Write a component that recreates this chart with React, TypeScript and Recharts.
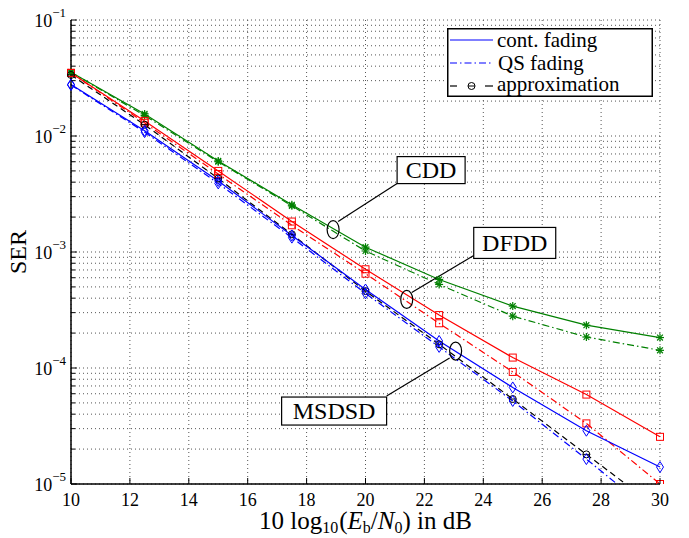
import React from "react";
import {
  CartesianGrid,
  Label,
  Legend,
  Line,
  LineChart,
  ReferenceDot,
  XAxis,
  YAxis
} from "recharts";

// Eb/N0 in dB
const snr = [10, 12.5, 15, 17.5, 20, 22.5, 25, 27.5, 30];

// CDD
const cddCont = [0.0355, 0.0155, 0.0061, 0.00255, 0.0011, 0.00058, 0.000342, 0.000234, 0.000183];
const cddQs = [0.0355, 0.015, 0.006, 0.0025, 0.00102, 0.000525, 0.00028, 0.000185, 0.000142];
// DFDD
const dfddCont = [0.035, 0.0135, 0.005, 0.00183, 0.00071, 0.000286, 0.000123, 0.000059, 0.0000255];
const dfddQs = [0.035, 0.013, 0.0047, 0.0017, 0.00065, 0.000243, 0.0000925, 0.0000333, 0.00001];
// MSDSD
const msdsdCont = [0.0278, 0.0111, 0.0041, 0.00139, 0.000475, 0.000171, 0.000068, 0.0000288, 0.000014];
const msdsdQs = [0.0275, 0.0108, 0.0039, 0.00133, 0.00044, 0.000152, 0.000052, 0.0000164, 0.000005];
const approx = [0.0336, 0.0125, 0.0043, 0.00142, 0.00046, 0.00016, 0.000054, 0.000018, 0.000006];

const xTicks = [10, 12, 14, 16, 18, 20, 22, 24, 26, 28, 30];
const decades = [1e-5, 1e-4, 1e-3, 1e-2, 1e-1];
const mantissas = [1, 2, 3, 4, 5, 6, 7, 8, 9];
const yTicks = decades
  .slice(0, 4)
  .flatMap((d) => mantissas.map((m) => m * d))
  .concat([1e-1]);

const annotations = [
  { label: "CDD", x: 18.9, y: 0.00156, line: [5, -8, 64, -46], box: [64, -73, 68, 27] },
  { label: "DFDD", x: 21.4, y: 0.00039, line: [5, -7, 67, -44], box: [67, -72, 82, 31] },
  { label: "MSDSD", x: 23.06, y: 0.00014, line: [-6, 7, -69, 45], box: [-174, 46, 105, 28] }
];

const data = snr.map((s, i) => ({
  snr: s,
  cddCont: cddCont[i],
  cddQs: cddQs[i],
  dfddCont: dfddCont[i],
  dfddQs: dfddQs[i],
  msdsdCont: msdsdCont[i],
  msdsdQs: msdsdQs[i],
  approx: approx[i]
}));

const serif = { fontFamily: "Liberation Serif, serif" };
const QS_DASH = "7 3 1.5 3";
const APPROX_DASH = "6 4";

function isDecade(v: number) {
  const l = Math.log10(v);
  return Math.abs(l - Math.round(l)) < 1e-6;
}

function LeftTick(props: any) {
  const { x, y, payload } = props;
  const major = isDecade(payload.value);
  const exp = Math.round(Math.log10(payload.value));
  return (
    <g>
      <line x1={x} x2={x + (major ? 6 : 4)} y1={y} y2={y} stroke="#000" />
      {major && (
        <text x={x - 5} y={y + 7} textAnchor="end" fontSize={18} style={serif} fill="#000">
          10
          <tspan dy={-10} fontSize={13}>
            {"\u2212" + Math.abs(exp)}
          </tspan>
        </text>
      )}
    </g>
  );
}

function RightTick(props: any) {
  const { x, y, payload } = props;
  const major = isDecade(payload.value);
  return <line x1={x} x2={x - (major ? 6 : 4)} y1={y} y2={y} stroke="#000" />;
}

function BottomTick(props: any) {
  const { x, y, payload } = props;
  return (
    <g>
      <line x1={x} x2={x} y1={y} y2={y - 6} stroke="#000" />
      <text x={x} y={y + 22} textAnchor="middle" fontSize={18} style={serif} fill="#000">
        {payload.value}
      </text>
    </g>
  );
}

function TopTick(props: any) {
  const { x, y } = props;
  return <line x1={x} x2={x} y1={y} y2={y + 6} stroke="#000" />;
}

function XTitle(props: any) {
  const vb = props.viewBox || { x: 71, y: 484, width: 589 };
  const cx = vb.x + vb.width / 2;
  return (
    <text x={cx} y={vb.y + 45} textAnchor="middle" fontSize={25} style={serif} fill="#000">
      10 log
      <tspan fontSize={16} dy={4}>10</tspan>
      <tspan dy={-4} dx={1}>(</tspan>
      <tspan fontStyle="italic">E</tspan>
      <tspan fontSize={16} dy={4}>b</tspan>
      <tspan dy={-4}>/</tspan>
      <tspan fontStyle="italic">N</tspan>
      <tspan fontSize={16} dy={4}>0</tspan>
      <tspan dy={-4}>)  in  dB</tspan>
    </text>
  );
}

function YTitle(props: any) {
  const vb = props.viewBox || { x: 0, y: 20, height: 464 };
  const cy = vb.y + vb.height / 2;
  return (
    <text
      x={18}
      y={cy}
      transform={`rotate(-90 18 ${cy})`}
      textAnchor="middle"
      dominantBaseline="central"
      fontSize={24}
      style={serif}
      fill="#000"
    >
      SER
    </text>
  );
}

function diamond(color: string) {
  return (p: any) => {
    const { cx, cy, index } = p;
    if (cx == null || cy == null) return <g key={index} />;
    return (
      <polygon
        key={index}
        points={`${cx},${cy - 5.5} ${cx + 3.5},${cy} ${cx},${cy + 5.5} ${cx - 3.5},${cy}`}
        fill="none"
        stroke={color}
        strokeWidth={1}
      />
    );
  };
}

function square(color: string) {
  return (p: any) => {
    const { cx, cy, index } = p;
    if (cx == null || cy == null) return <g key={index} />;
    return <rect key={index} x={cx - 3.5} y={cy - 3.5} width={7} height={7} fill="none" stroke={color} strokeWidth={1} />;
  };
}

function star(color: string) {
  return (p: any) => {
    const { cx, cy, index } = p;
    if (cx == null || cy == null) return <g key={index} />;
    const r = 4;
    const d = 2.9;
    return (
      <g key={index} stroke={color} strokeWidth={1.2}>
        <line x1={cx - r} x2={cx + r} y1={cy} y2={cy} />
        <line x1={cx} x2={cx} y1={cy - r} y2={cy + r} />
        <line x1={cx - d} x2={cx + d} y1={cy - d} y2={cy + d} />
        <line x1={cx - d} x2={cx + d} y1={cy + d} y2={cy - d} />
      </g>
    );
  };
}

function circle(color: string) {
  return (p: any) => {
    const { cx, cy, index } = p;
    if (cx == null || cy == null) return <g key={index} />;
    return (
      <g key={index}>
        <circle cx={cx} cy={cy} r={3.5} fill="none" stroke={color} strokeWidth={1} />
        <line x1={cx - 3.5} x2={cx + 3.5} y1={cy} y2={cy} stroke={color} strokeWidth={1} />
      </g>
    );
  };
}

function callout(a: (typeof annotations)[number]) {
  return (p: any) => {
    const { cx, cy } = p;
    const [lx1, ly1, lx2, ly2] = a.line;
    const [bx, by, bw, bh] = a.box;
    return (
      <g>
        <ellipse cx={cx} cy={cy} rx={6} ry={9} fill="none" stroke="#000" strokeWidth={1.2} />
        <line x1={cx + lx1} y1={cy + ly1} x2={cx + lx2} y2={cy + ly2} stroke="#000" strokeWidth={1.2} />
        <rect x={cx + bx} y={cy + by} width={bw} height={bh} fill="#fff" stroke="#000" strokeWidth={1.2} />
        <text
          x={cx + bx + bw / 2}
          y={cy + by + bh / 2 + 8}
          textAnchor="middle"
          fontSize={24}
          style={serif}
          fill="#000"
        >
          {a.label}
        </text>
      </g>
    );
  };
}

function LegendBox() {
  return (
    <svg width={206} height={69} style={{ display: "block", overflow: "visible" }}>
      <rect x={0.75} y={0.75} width={204.5} height={67.5} fill="#fff" stroke="#000" strokeWidth={1.5} />
      <line x1={3} x2={46} y1={12} y2={12} stroke="#0000ff" strokeWidth={1.2} />
      <text x={50} y={19} fontSize={21} style={serif} fill="#000">
        cont. fading
      </text>
      <line x1={3} x2={46} y1={35} y2={35} stroke="#0000ff" strokeWidth={1.2} strokeDasharray={QS_DASH} />
      <text x={51} y={42} fontSize={21} style={serif} fill="#000">
        QS fading
      </text>
      <line x1={3} x2={10} y1={58} y2={58} stroke="#000" strokeWidth={1.2} />
      <circle cx={24.5} cy={58} r={3.5} fill="none" stroke="#000" />
      <line x1={21} x2={28} y1={58} y2={58} stroke="#000" />
      <line x1={38} x2={46} y1={58} y2={58} stroke="#000" strokeWidth={1.2} />
      <text x={50} y={63} fontSize={21} style={serif} fill="#000">
        approximation
      </text>
    </svg>
  );
}

export default function App() {
  return (
    <div style={{ position: "absolute", left: 0, top: 0, background: "#fff" }}>
      <LineChart width={689} height={538} data={data} margin={{ top: 20, right: 29, left: 0, bottom: 0 }}>
        <CartesianGrid stroke="#555" strokeDasharray="1 3" strokeWidth={1} />
        <XAxis
          dataKey="snr"
          type="number"
          domain={[10, 30]}
          ticks={xTicks}
          interval={0}
          height={54}
          tickSize={0}
          tickMargin={0}
          tickLine={false}
          tick={<BottomTick />}
          axisLine={{ stroke: "#000", strokeWidth: 1.5 }}
        >
          <Label content={<XTitle />} />
        </XAxis>
        <XAxis
          xAxisId="t"
          orientation="top"
          dataKey="snr"
          type="number"
          domain={[10, 30]}
          ticks={xTicks}
          interval={0}
          height={0}
          tickSize={0}
          tickMargin={0}
          tickLine={false}
          tick={<TopTick />}
          axisLine={{ stroke: "#000", strokeWidth: 1.5 }}
        />
        <YAxis
          type="number"
          scale="log"
          domain={[1e-5, 1e-1]}
          allowDataOverflow
          ticks={yTicks}
          interval={0}
          width={71}
          tickSize={0}
          tickMargin={0}
          tickLine={false}
          tick={<LeftTick />}
          axisLine={{ stroke: "#000", strokeWidth: 1.5 }}
        >
          <Label content={<YTitle />} />
        </YAxis>
        <YAxis
          yAxisId="r"
          orientation="right"
          type="number"
          scale="log"
          domain={[1e-5, 1e-1]}
          allowDataOverflow
          ticks={yTicks}
          interval={0}
          width={0}
          tickSize={0}
          tickMargin={0}
          tickLine={false}
          tick={<RightTick />}
          axisLine={{ stroke: "#000", strokeWidth: 1.5 }}
        />
        <Legend
          verticalAlign="middle"
          align="center"
          layout="horizontal"
          wrapperStyle={{ left: 447, top: 28, width: 206, height: 69 }}
          content={() => <LegendBox />}
        />

        <Line dataKey="cddQs" stroke="#008000" strokeWidth={1.2} strokeDasharray={QS_DASH} dot={star("#008000")} isAnimationActive={false} />
        <Line dataKey="cddCont" stroke="#008000" strokeWidth={1.2} dot={star("#008000")} isAnimationActive={false} />
        <Line dataKey="dfddQs" stroke="#ff0000" strokeWidth={1.2} strokeDasharray={QS_DASH} dot={square("#ff0000")} isAnimationActive={false} />
        <Line dataKey="dfddCont" stroke="#ff0000" strokeWidth={1.2} dot={square("#ff0000")} isAnimationActive={false} />
        <Line dataKey="approx" stroke="#000" strokeWidth={1.2} strokeDasharray={APPROX_DASH} dot={circle("#000")} isAnimationActive={false} />
        <Line dataKey="msdsdQs" stroke="#0000ff" strokeWidth={1.2} strokeDasharray={QS_DASH} dot={diamond("#0000ff")} isAnimationActive={false} />
        <Line dataKey="msdsdCont" stroke="#0000ff" strokeWidth={1.2} dot={diamond("#0000ff")} isAnimationActive={false} />

        {annotations.map((a) => (
          <ReferenceDot key={a.label} x={a.x} y={a.y} r={0} ifOverflow="visible" shape={callout(a)} />
        ))}
      </LineChart>
    </div>
  );
}
